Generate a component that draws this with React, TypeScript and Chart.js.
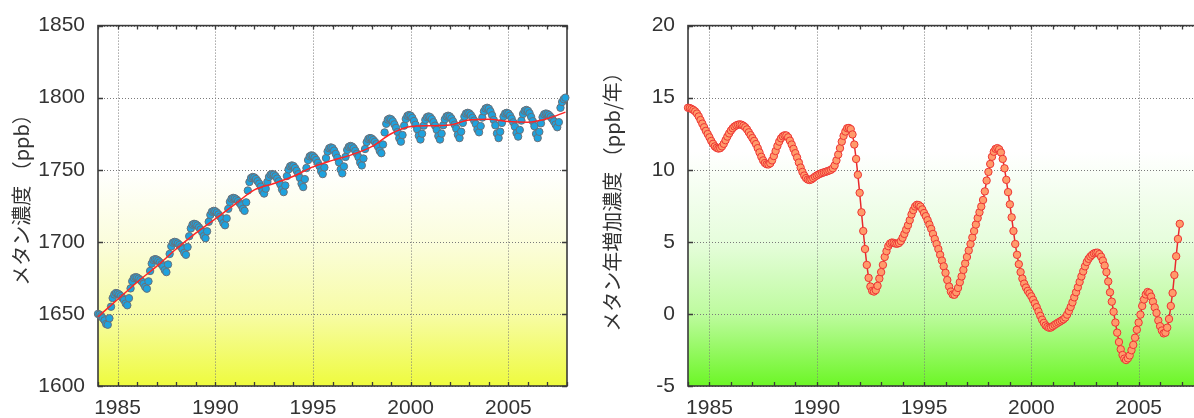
import React, { useEffect, useRef } from 'react';
import { Chart, registerables } from 'chart.js';

Chart.register(...registerables);

// ---------- data ----------
const START_YEAR = 1984;

// monthly methane concentration (ppb), Jan 1984 .. Dec 2007
const methaneMonthly = [
  1650, 1649.5, 1648.5, 1647, 1645.5, 1643, 1642.5, 1647, 1655, 1661, 1663.5, 1664.5,
  1664.2, 1663.5, 1662.4, 1661.1, 1659.6, 1657.3, 1656, 1660.9, 1667.7, 1672.6, 1674.9, 1675.5,
  1675.3, 1674.5, 1673.5, 1672.3, 1670.9, 1668.7, 1667.5, 1672.6, 1679.8, 1684.9, 1687.4, 1688,
  1687.7, 1686.9, 1685.8, 1684.4, 1682.8, 1680.4, 1679, 1684.3, 1691.6, 1696.9, 1699.4, 1700,
  1699.7, 1698.9, 1697.8, 1696.4, 1694.8, 1692.4, 1691, 1696.4, 1703.9, 1709.3, 1711.9, 1712.5,
  1712.2, 1711.3, 1710, 1708.5, 1706.7, 1704, 1702.5, 1707.3, 1713.9, 1718.7, 1720.9, 1721.5,
  1721.2, 1720.3, 1719, 1717.5, 1715.7, 1713, 1711.5, 1716.3, 1722.9, 1727.7, 1729.9, 1730.5,
  1730.2, 1729.4, 1728.3, 1726.9, 1725.3, 1722.9, 1721.5, 1727.4, 1735.6, 1741.5, 1744.3, 1745,
  1744.7, 1743.6, 1742.1, 1740.4, 1738.3, 1735.2, 1733.5, 1736.9, 1741.6, 1745, 1746.6, 1747,
  1746.6, 1745.5, 1743.9, 1742, 1739.8, 1736.4, 1734.5, 1739.1, 1745.6, 1750.2, 1752.4, 1753,
  1752.6, 1751.2, 1749.3, 1747, 1744.3, 1740.3, 1738, 1743.5, 1751.2, 1756.7, 1759.3, 1760,
  1759.6, 1758.4, 1756.8, 1754.8, 1752.5, 1749, 1747, 1751.6, 1758.1, 1762.7, 1764.9, 1765.5,
  1765, 1763.3, 1761, 1758.3, 1755.1, 1750.2, 1747.5, 1752.3, 1758.9, 1763.7, 1765.9, 1766.5,
  1766.1, 1764.9, 1763.1, 1761.1, 1758.7, 1755, 1753, 1757.8, 1764.4, 1769.2, 1771.4, 1772,
  1771.7, 1770.7, 1769.4, 1767.8, 1765.9, 1763.1, 1761.5, 1767.5, 1775.9, 1781.9, 1784.8, 1785.5,
  1785, 1783.6, 1781.5, 1779.1, 1776.2, 1771.9, 1769.5, 1774.1, 1780.6, 1785.2, 1787.4, 1788,
  1787.5, 1786, 1783.8, 1781.2, 1778.1, 1773.6, 1771, 1775, 1780.6, 1784.6, 1786.5, 1787,
  1786.5, 1785.1, 1783, 1780.6, 1777.7, 1773.4, 1771, 1775.1, 1780.9, 1785, 1787, 1787.5,
  1787, 1785.6, 1783.6, 1781.3, 1778.5, 1774.3, 1772, 1776.4, 1782.5, 1786.9, 1789, 1789.5,
  1789.1, 1787.9, 1786.1, 1784.1, 1781.7, 1778, 1776, 1780.3, 1786.2, 1790.5, 1792.5, 1793,
  1792.4, 1790.5, 1787.8, 1784.6, 1780.8, 1775.2, 1772, 1776.4, 1782.5, 1786.9, 1789, 1789.5,
  1789, 1787.5, 1785.4, 1782.9, 1779.9, 1775.5, 1773, 1777.6, 1784.1, 1788.7, 1790.9, 1791.5,
  1790.9, 1789.2, 1786.6, 1783.7, 1780.2, 1774.9, 1772, 1776.3, 1782.2, 1786.5, 1788.5, 1789,
  1788.7, 1787.9, 1786.6, 1785.2, 1783.5, 1781.4, 1779.5, 1783, 1793, 1797, 1799, 1800,
];

// long-term trend of concentration (ppb)
const trendYears = [
  1984, 1985, 1986, 1987, 1988, 1989, 1990, 1991, 1992, 1993, 1994, 1995,
  1996, 1997, 1998, 1999, 2000, 2001, 2002, 2003, 2004, 2005, 2006, 2007, 2007.92,
];
const trendValues = [
  1648, 1660, 1672, 1683, 1695, 1706, 1716, 1726, 1736, 1740.5, 1745.5, 1752,
  1756.5, 1760.5, 1766, 1775, 1780, 1780.5, 1781, 1784.5, 1785, 1783.5, 1783, 1785.5, 1790,
];

// monthly growth rate (ppb/year), Jan 1984 .. Dec 2006
const growthMonthly = [
  14.3, 14.28, 14.22, 14.15, 14.05, 13.9, 13.7, 13.45, 13.2, 12.95, 12.7, 12.48,
  12.25, 12.0, 11.8, 11.62, 11.52, 11.47, 11.5, 11.62, 11.8, 12.05, 12.3, 12.52,
  12.72, 12.88, 13.0, 13.08, 13.13, 13.15, 13.12, 13.05, 12.95, 12.8, 12.6, 12.4,
  12.2, 12.0, 11.78, 11.5, 11.2, 10.9, 10.65, 10.47, 10.38, 10.37, 10.45, 10.65,
  10.95, 11.3, 11.65, 11.95, 12.18, 12.32, 12.39, 12.38, 12.25, 12.02, 11.75, 11.45,
  11.15, 10.85, 10.5, 10.15, 9.85, 9.6, 9.42, 9.32, 9.29, 9.33, 9.42, 9.52,
  9.6, 9.67, 9.73, 9.78, 9.82, 9.86, 9.9, 9.95, 10.0, 10.1, 10.3, 10.65,
  11.05, 11.5, 11.95, 12.35, 12.65, 12.88, 12.9, 12.82, 12.45, 11.75, 10.75, 9.65,
  8.4, 7.05, 5.75, 4.5, 3.4, 2.5, 1.9, 1.6, 1.55, 1.65, 1.95, 2.45,
  2.9, 3.4, 3.95, 4.35, 4.7, 4.88, 4.95, 4.93, 4.88, 4.87, 4.92, 5.05,
  5.28, 5.55, 5.85, 6.15, 6.5, 6.9, 7.2, 7.45, 7.57, 7.55, 7.45, 7.25,
  7.0, 6.78, 6.5, 6.2, 5.9, 5.55, 5.2, 4.85, 4.5, 4.1, 3.7, 3.3,
  2.85, 2.35, 1.9, 1.55, 1.35, 1.33, 1.5, 1.8, 2.2, 2.6, 3.05, 3.5,
  3.95, 4.4, 4.85, 5.3, 5.75, 6.2, 6.65, 7.05, 7.45, 7.9, 8.5, 9.25,
  9.85, 10.4, 10.9, 11.25, 11.45, 11.5, 11.42, 11.2, 10.75, 10.1, 9.3, 8.45,
  7.6, 6.7, 5.75, 4.85, 4.1, 3.45, 2.9, 2.45, 2.1, 1.83, 1.6, 1.42,
  1.22, 0.98, 0.73, 0.47, 0.17, -0.13, -0.4, -0.62, -0.8, -0.9, -0.96, -0.94,
  -0.85, -0.76, -0.68, -0.6, -0.53, -0.45, -0.37, -0.25, -0.05, 0.2, 0.48, 0.8,
  1.15, 1.5, 1.85, 2.22, 2.6, 2.95, 3.3, 3.6, 3.82, 3.98, 4.1, 4.2,
  4.24, 4.25, 4.15, 3.97, 3.7, 3.35, 2.9, 2.25, 1.5, 0.85, 0.15, -0.6,
  -1.3, -1.95, -2.45, -2.85, -3.1, -3.2, -3.08, -2.88, -2.52, -2.15, -1.65, -1.1,
  -0.6, -0.05, 0.55, 1.0, 1.35, 1.52, 1.45, 1.2, 0.85, 0.45, 0.07, -0.45,
  -0.85, -1.15, -1.35, -1.3, -0.95, -0.35, 0.55, 1.45, 2.7, 4.0, 5.2, 6.25,
];

const xTickYears = [1985, 1990, 1995, 2000, 2005];
const minorTickYears = [
  1984, 1985, 1986, 1987, 1988, 1989, 1990, 1991, 1992, 1993, 1994, 1995, 1996,
  1997, 1998, 1999, 2000, 2001, 2002, 2003, 2004, 2005, 2006, 2007, 2008,
];
const concYTicks = [1600, 1650, 1700, 1750, 1800, 1850];
const rateYTicks = [-5, 0, 5, 10, 15, 20];
const concTitle = 'メタン濃度 （ppb）';
const rateTitle = 'メタン年増加濃度 （ppb/年）';

// ---------- styling helpers ----------
const TICK_FONT = { family: '"Liberation Sans", Arial, sans-serif', size: 21 };
const TITLE_FONT = '20px "Noto Sans CJK JP", "Liberation Sans", sans-serif';
const TEXT_COLOR = '#333333';

type FrameOpts = {
  title: string;
  titleX: number;
  titleY: number;
  stops: [number, string][];
  majorX: number[];
  minorX: number[];
  majorY: number[];
};

function framePlugin(o: FrameOpts) {
  return {
    id: 'frame',
    beforeDatasetsDraw(chart: any) {
      const { ctx, chartArea: a, scales } = chart;
      const xs = scales.x;
      const ys = scales.y;
      ctx.save();
      const g = ctx.createLinearGradient(0, a.top, 0, a.bottom);
      o.stops.forEach(([off, c]) => g.addColorStop(off, c));
      ctx.fillStyle = g;
      ctx.fillRect(a.left, a.top, a.right - a.left, a.bottom - a.top);

      // dotted grid
      ctx.strokeStyle = '#7a7a7a';
      ctx.lineWidth = 1;
      ctx.setLineDash([1, 2]);
      ctx.beginPath();
      o.majorX.forEach((v) => {
        const x = Math.round(xs.getPixelForValue(v)) + 0.5;
        ctx.moveTo(x, a.top);
        ctx.lineTo(x, a.bottom);
      });
      o.majorY.forEach((v) => {
        const y = Math.round(ys.getPixelForValue(v)) + 0.5;
        ctx.moveTo(a.left, y);
        ctx.lineTo(a.right, y);
      });
      ctx.stroke();
      ctx.setLineDash([]);

      // inward tick marks
      ctx.strokeStyle = '#3a3a3a';
      ctx.lineWidth = 1.3;
      ctx.beginPath();
      o.minorX.forEach((v) => {
        const x = Math.round(xs.getPixelForValue(v)) + 0.5;
        ctx.moveTo(x, a.bottom);
        ctx.lineTo(x, a.bottom - 4);
        ctx.moveTo(x, a.top);
        ctx.lineTo(x, a.top + 4);
      });
      o.majorY.forEach((v) => {
        const y = Math.round(ys.getPixelForValue(v)) + 0.5;
        ctx.moveTo(a.left, y);
        ctx.lineTo(a.left + 5, y);
        ctx.moveTo(a.right, y);
        ctx.lineTo(a.right - 5, y);
      });
      ctx.stroke();

      // frame
      ctx.strokeStyle = '#3a3a3a';
      ctx.lineWidth = 1.6;
      ctx.strokeRect(a.left, a.top, a.right - a.left, a.bottom - a.top);
      ctx.restore();
    },
    afterDraw(chart: any) {
      const { ctx } = chart;
      ctx.save();
      ctx.translate(o.titleX, o.titleY);
      ctx.rotate(-Math.PI / 2);
      ctx.font = TITLE_FONT;
      ctx.fillStyle = TEXT_COLOR;
      ctx.textAlign = 'center';
      ctx.textBaseline = 'middle';
      ctx.fillText(o.title, 0, 0);
      ctx.restore();
    },
  };
}

function axisScales(yMin: number, yMax: number, yTicks: number[]) {
  return {
    x: {
      type: 'linear',
      min: 1984,
      max: 2008,
      afterBuildTicks: (s: any) => {
        s.ticks = xTickYears.map((v) => ({ value: v }));
      },
      afterFit: (s: any) => {
        s.height = 32;
      },
      grid: { display: false, drawTicks: false },
      border: { display: false },
      ticks: {
        font: TICK_FONT,
        color: TEXT_COLOR,
        padding: 10,
        maxRotation: 0,
        autoSkip: false,
        callback: (v: any) => String(v),
      },
    },
    y: {
      type: 'linear',
      min: yMin,
      max: yMax,
      afterBuildTicks: (s: any) => {
        s.ticks = yTicks.map((v) => ({ value: v }));
      },
      afterFit: (s: any) => {
        s.width = 98;
      },
      grid: { display: false, drawTicks: false },
      border: { display: false },
      ticks: {
        font: TICK_FONT,
        color: TEXT_COLOR,
        padding: 13,
        autoSkip: false,
        callback: (v: any) => String(v),
      },
    },
  };
}

function ConcentrationChart() {
  const ref = useRef<HTMLCanvasElement | null>(null);
  useEffect(() => {
    if (!ref.current) return;
    const chart = new Chart(ref.current, {
      type: 'scatter',
      data: {
        datasets: [
          {
            data: methaneMonthly.map((v, i) => ({ x: START_YEAR + i / 12, y: v })),
            showLine: false,
            pointRadius: 3.7,
            pointBackgroundColor: '#1ea2de',
            pointBorderColor: '#6a7078',
            pointBorderWidth: 1,
            order: 2,
            clip: false,
          } as any,
          {
            data: trendYears.map((t, i) => ({ x: t, y: trendValues[i] })),
            showLine: true,
            pointRadius: 0,
            borderColor: '#ff2424',
            borderWidth: 1.5,
            cubicInterpolationMode: 'monotone',
            order: 1,
            clip: false,
          } as any,
        ],
      },
      options: {
        animation: false,
        responsive: false,
        devicePixelRatio: 1,
        events: [],
        layout: { padding: { left: 0, right: 23, top: 22, bottom: 0 } },
        plugins: { legend: { display: false }, tooltip: { enabled: false } },
        scales: axisScales(1600, 1850, concYTicks) as any,
      },
      plugins: [
        framePlugin({
          title: concTitle,
          titleX: 21,
          titleY: 195,
          stops: [
            [0, '#ffffff'],
            [0.4, '#ffffff'],
            [0.6, '#fbfddc'],
            [0.8, '#f7fca6'],
            [1, '#eefb3e'],
          ],
          majorX: xTickYears,
          minorX: minorTickYears,
          majorY: concYTicks,
        }),
      ],
    });
    return () => chart.destroy();
  }, []);
  return (
    <canvas
      ref={ref}
      width={590}
      height={418}
      style={{ position: 'absolute', left: 0, top: 0, width: 590, height: 418 }}
    />
  );
}

function GrowthChart() {
  const ref = useRef<HTMLCanvasElement | null>(null);
  useEffect(() => {
    if (!ref.current) return;
    const chart = new Chart(ref.current, {
      type: 'scatter',
      data: {
        datasets: [
          {
            data: growthMonthly.map((v, i) => ({ x: START_YEAR + i / 12, y: v })),
            showLine: true,
            borderColor: '#e8282c',
            borderWidth: 1.5,
            pointRadius: 3.7,
            pointBackgroundColor: '#ff9b6b',
            pointBorderColor: '#ee3535',
            pointBorderWidth: 1,
            clip: false,
          } as any,
        ],
      },
      options: {
        animation: false,
        responsive: false,
        devicePixelRatio: 1,
        events: [],
        layout: { padding: { left: 0, right: 7, top: 23, bottom: 0 } },
        plugins: { legend: { display: false }, tooltip: { enabled: false } },
        scales: axisScales(-5, 20, rateYTicks) as any,
      },
      plugins: [
        framePlugin({
          title: rateTitle,
          titleX: 22,
          titleY: 197,
          stops: [
            [0, '#ffffff'],
            [0.35, '#ffffff'],
            [0.6, '#e6fddc'],
            [0.8, '#befb9f'],
            [1, '#6cf626'],
          ],
          majorX: xTickYears,
          minorX: minorTickYears,
          majorY: rateYTicks,
        }),
      ],
    });
    return () => chart.destroy();
  }, []);
  return (
    <canvas
      ref={ref}
      width={620}
      height={418}
      style={{ position: 'absolute', left: 590, top: 0, width: 620, height: 418 }}
    />
  );
}

export default function App() {
  return (
    <div
      style={{
        position: 'absolute',
        left: 0,
        top: 0,
        width: 1194,
        height: 418,
        overflow: 'hidden',
        background: '#ffffff',
      }}
    >
      <ConcentrationChart />
      <GrowthChart />
    </div>
  );
}
